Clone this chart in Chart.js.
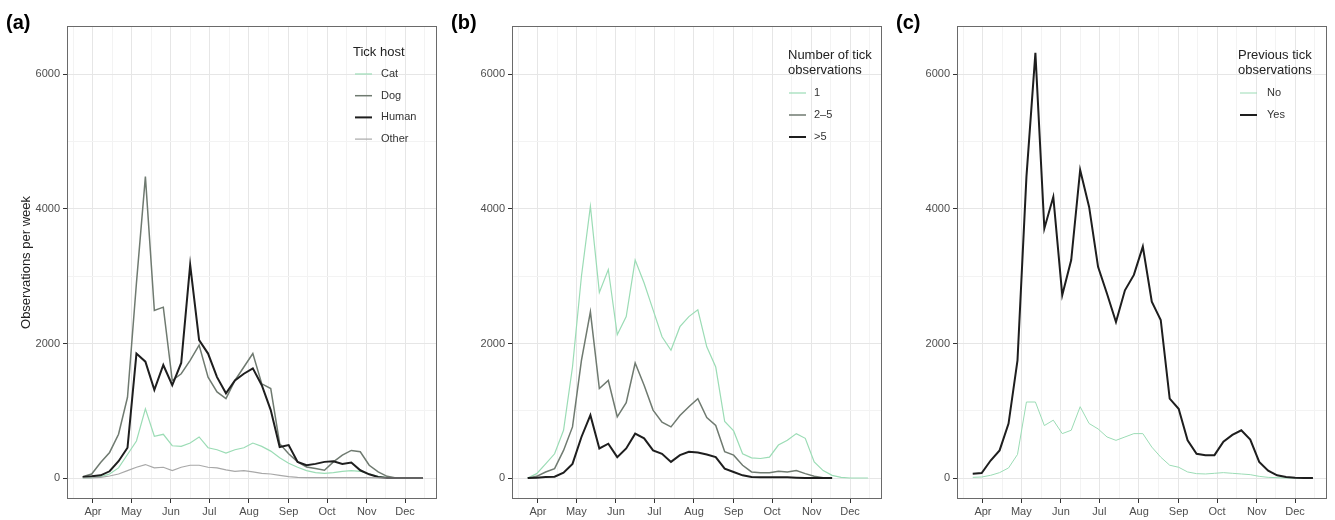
<!DOCTYPE html>
<html>
<head>
<meta charset="utf-8">
<script src="https://cdn.jsdelivr.net/npm/chart.js@4.4.1/dist/chart.umd.min.js"></script>
<style>
  body { margin: 0; background: #fff; }
  #wrap { position: relative; width: 1335px; height: 520px; }
  .panel { position: absolute; top: 0; width: 445px; height: 520px; }
</style>
</head>
<body>
<div id="wrap">
  <div class="panel" style="left:0px"><canvas id="chartA" width="445" height="520"></canvas></div>
  <div class="panel" style="left:445px"><canvas id="chartB" width="445" height="520"></canvas></div>
  <div class="panel" style="left:890px"><canvas id="chartC" width="445" height="520"></canvas></div>
</div>
<script>
// week start (day of year)
const weekDays = [83, 90, 97, 104, 111, 118, 125, 132, 139, 146, 153, 160, 167, 174, 181, 188, 195, 202, 209, 216,
                  223, 230, 237, 244, 251, 258, 265, 272, 279, 286, 293, 300, 307, 314, 321, 328, 335, 342, 349];

// month axis
const monthDays = [91, 121, 152, 182, 213, 244, 274, 305, 335];
const monthLabels = ['Apr', 'May', 'Jun', 'Jul', 'Aug', 'Sep', 'Oct', 'Nov', 'Dec'];
const yTicks = [0, 2000, 4000, 6000];

// (a) tick host
const hostNames = ['Cat', 'Dog', 'Human', 'Other'];
const hostCat = [0, 5, 20, 60, 150, 350, 550, 1030, 620, 650, 480, 470, 520, 610, 450, 420, 370, 420, 450, 520,
                 470, 400, 300, 220, 160, 110, 80, 70, 80, 100, 110, 100, 60, 25, 5, 0, 0, 0, 0];
const hostDog = [20, 60, 230, 380, 650, 1200, 2900, 4480, 2490, 2540, 1450, 1550, 1750, 1975, 1500, 1280, 1180, 1450, 1650, 1850,
                 1400, 1330, 510, 360, 240, 165, 140, 115, 240, 340, 410, 390, 190, 90, 25, 0, 0, 0, 0];
const hostHuman = [15, 25, 40, 100, 250, 450, 1850, 1730, 1310, 1680, 1380, 1710, 3170, 2050, 1850, 1500, 1260, 1450, 1550, 1630,
                   1380, 1010, 460, 490, 240, 190, 210, 240, 250, 210, 230, 115, 55, 15, 0, 0, 0, 0, 0];
const hostOther = [0, 2, 10, 30, 60, 110, 160, 200, 150, 160, 110, 160, 190, 190, 160, 150, 120, 100, 110, 90,
                   70, 60, 40, 20, 10, 5, 5, 5, 5, 5, 5, 5, 5, 3, 0, 0, 0, 0, 0];

// (b) number of tick observations
const obsNames = ['1', '2\u20135', '>5'];
const obsOne = [0, 65, 210, 360, 710, 1650, 3000, 4040, 2760, 3100, 2130, 2400, 3240, 2900, 2500, 2100, 1900, 2250, 2400, 2500,
                1950, 1650, 840, 700, 360, 300, 290, 310, 490, 560, 660, 590, 240, 110, 40, 10, 0, 0, 0];
const obsTwoFive = [0, 25, 90, 140, 410, 760, 1750, 2470, 1330, 1450, 910, 1120, 1710, 1380, 1010, 830, 760, 930, 1060, 1180,
                    900, 780, 390, 340, 190, 90, 80, 80, 100, 90, 110, 65, 25, 5, 0];
const obsMore5 = [0, 5, 15, 20, 80, 210, 610, 935, 440, 510, 310, 440, 660, 590, 410, 360, 240, 340, 390, 380,
                  350, 310, 140, 90, 40, 15, 10, 10, 10, 10, 5, 0, 0, 0, 0];

// (c) previous tick observations
const prevNames = ['No', 'Yes'];
const prevNo = [10, 15, 40, 80, 150, 350, 1130, 1130, 780, 860, 660, 710, 1060, 810, 730, 610, 560, 610, 660, 660,
                460, 310, 190, 160, 90, 65, 60, 70, 80, 70, 60, 50, 25, 10, 5, 0, 0, 0, 0];
const prevYes = [65, 75, 260, 410, 810, 1750, 4480, 6320, 3710, 4180, 2720, 3240, 4580, 4030, 3140, 2740, 2320, 2790, 3020, 3440,
                 2620, 2350, 1180, 1030, 560, 360, 340, 340, 540, 640, 710, 570, 240, 110, 40, 15, 5, 0, 0];

const FONT = '"Liberation Sans", Arial, Helvetica, sans-serif';
const MINT = '#9bdcb5', GREY = '#6f7a70', DARK = '#1e1e1e', LIGHTGREY = '#a8a8a8';

function toPoints(series) {
  return series.map((v, i) => ({ x: weekDays[i], y: v }));
}

// midpoints between month starts, used as minor grid lines
const minorX = [];
minorX.push(monthDays[0] - 15.5);
for (let i = 0; i < monthDays.length - 1; i++) minorX.push((monthDays[i] + monthDays[i + 1]) / 2);
minorX.push(monthDays[monthDays.length - 1] + 15.5);
const minorY = [1000, 3000, 5000];

// frame, panel tag, legend inside the plot, y title
const panelDecor = {
  id: 'panelDecor',
  afterDraw(chart, args, opts) {
    const ctx = chart.ctx, a = chart.chartArea;
    ctx.save();
    ctx.strokeStyle = '#6a6a6a';
    ctx.lineWidth = 1;
    ctx.strokeRect(a.left + 0.5, a.top + 0.5, a.right - a.left - 1, a.bottom - a.top - 1);

    ctx.fillStyle = '#000';
    ctx.font = 'bold 20px ' + FONT;
    ctx.textAlign = 'left';
    ctx.textBaseline = 'alphabetic';
    ctx.fillText(opts.tag, 6, 29);

    if (opts.yTitle) {
      ctx.save();
      ctx.translate(26, (a.top + a.bottom) / 2);
      ctx.rotate(-Math.PI / 2);
      ctx.textAlign = 'center';
      ctx.textBaseline = 'middle';
      ctx.font = '13px ' + FONT;
      ctx.fillStyle = '#222';
      ctx.fillText(opts.yTitle, 0, 0);
      ctx.restore();
    }

    // legend
    ctx.textAlign = 'left';
    ctx.textBaseline = 'middle';
    ctx.font = '13px ' + FONT;
    ctx.fillStyle = '#222';
    opts.title.forEach((line, k) => ctx.fillText(line, opts.titleX, opts.titleY[k]));
    ctx.font = '11px ' + FONT;
    chart.data.datasets.forEach((ds, k) => {
      const y = opts.itemY + k * opts.itemStep;
      ctx.strokeStyle = ds.borderColor;
      ctx.lineWidth = ds.borderWidth;
      ctx.beginPath();
      ctx.moveTo(opts.lineX, y);
      ctx.lineTo(opts.lineX + 17, y);
      ctx.stroke();
      ctx.fillStyle = '#333';
      ctx.fillText(ds.label, opts.labelX, y);
    });
    ctx.restore();
  }
};

function makePanel(id, datasets, decor) {
  const n = datasets.length;
  datasets.forEach((d, i) => {
    d.pointRadius = 0;
    d.tension = 0;
    d.fill = false;
    d.order = n - i;
  });
  return new Chart(document.getElementById(id), {
    type: 'line',
    data: { datasets: datasets },
    plugins: [panelDecor],
    options: {
      responsive: false,
      animation: false,
      layout: { padding: { top: 26, right: 8, bottom: 0, left: 0 } },
      plugins: {
        legend: { display: false },
        tooltip: { enabled: false },
        panelDecor: decor
      },
      scales: {
        x: {
          type: 'linear',
          min: 70.7,
          max: 360,
          afterFit: s => { s.height = 21; },
          afterBuildTicks: s => {
            s.ticks = monthDays.concat(minorX).map(v => ({ value: v }));
          },
          border: { display: false },
          grid: {
            color: c => monthDays.includes(c.tick.value) ? '#e6e6e6' : '#f3f3f3',
            tickColor: c => monthDays.includes(c.tick.value) ? '#333' : 'rgba(0,0,0,0)',
            tickLength: 4
          },
          ticks: {
            autoSkip: false,
            maxRotation: 0,
            padding: 2,
            color: '#4d4d4d',
            font: { family: FONT, size: 11 },
            callback: v => {
              const i = monthDays.indexOf(v);
              return i >= 0 ? monthLabels[i] : '';
            }
          }
        },
        y: {
          min: -312,
          max: 6720,
          afterFit: s => { s.width = 67; },
          afterBuildTicks: s => {
            s.ticks = yTicks.concat(minorY).map(v => ({ value: v }));
          },
          border: { display: false },
          grid: {
            color: c => yTicks.includes(c.tick.value) ? '#e6e6e6' : '#f3f3f3',
            tickColor: c => yTicks.includes(c.tick.value) ? '#333' : 'rgba(0,0,0,0)',
            tickLength: 4
          },
          ticks: {
            padding: 3,
            color: '#4d4d4d',
            font: { family: FONT, size: 11 },
            callback: v => yTicks.includes(v) ? String(v) : ''
          }
        }
      }
    }
  });
}

makePanel('chartA', [
  { label: hostNames[0], data: toPoints(hostCat), borderColor: MINT, borderWidth: 1.2 },
  { label: hostNames[1], data: toPoints(hostDog), borderColor: GREY, borderWidth: 1.5 },
  { label: hostNames[2], data: toPoints(hostHuman), borderColor: DARK, borderWidth: 2 },
  { label: hostNames[3], data: toPoints(hostOther), borderColor: LIGHTGREY, borderWidth: 1.2 }
], {
  tag: '(a)', yTitle: 'Observations per week',
  title: ['Tick host'], titleX: 353, titleY: [52],
  lineX: 355, labelX: 381, itemY: 74, itemStep: 21.7
});

makePanel('chartB', [
  { label: obsNames[0], data: toPoints(obsOne), borderColor: MINT, borderWidth: 1.2 },
  { label: obsNames[1], data: toPoints(obsTwoFive), borderColor: GREY, borderWidth: 1.5 },
  { label: obsNames[2], data: toPoints(obsMore5), borderColor: DARK, borderWidth: 2 }
], {
  tag: '(b)',
  title: ['Number of tick', 'observations'], titleX: 343, titleY: [55, 70],
  lineX: 344, labelX: 369, itemY: 93, itemStep: 22
});

makePanel('chartC', [
  { label: prevNames[0], data: toPoints(prevNo), borderColor: MINT, borderWidth: 1 },
  { label: prevNames[1], data: toPoints(prevYes), borderColor: DARK, borderWidth: 2 }
], {
  tag: '(c)',
  title: ['Previous tick', 'observations'], titleX: 348, titleY: [55, 70],
  lineX: 350, labelX: 377, itemY: 93, itemStep: 22
});
</script>
</body>
</html>
